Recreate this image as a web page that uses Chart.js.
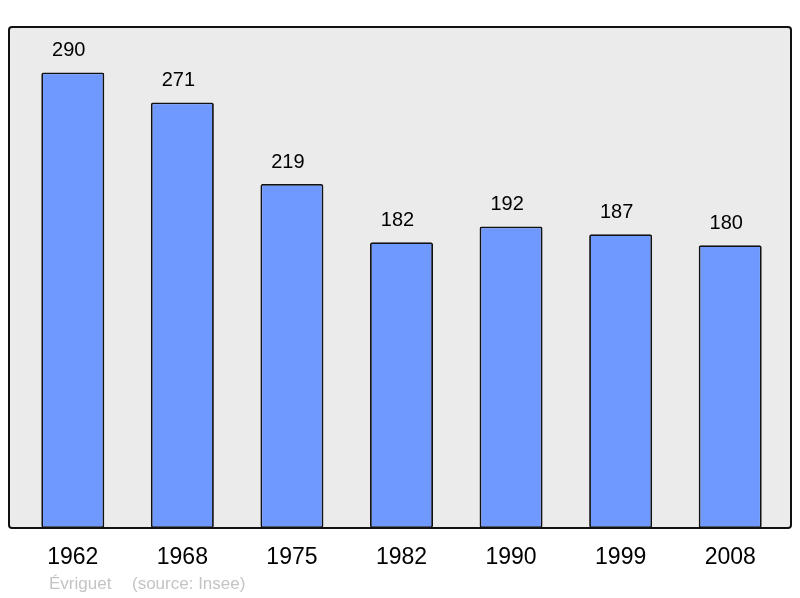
<!DOCTYPE html>
<html>
<head>
<meta charset="utf-8">
<script src="https://cdn.jsdelivr.net/npm/chart.js@4"></script>
<style>
  html, body { margin: 0; padding: 0; background: #fff; }
  #wrap { width: 800px; height: 598px; }
</style>
</head>
<body>
<div id="wrap"><canvas id="chart"></canvas></div>
<script>
// Population data
const years = ['1962', '1968', '1975', '1982', '1990', '1999', '2008'];
const population = [290, 271, 219, 182, 192, 187, 180];
const author = 'Évriguet';
const source = '(source: Insee)';

// Gray frame behind the bars
const framePlugin = {
    id: 'frame',
    beforeDraw(chart) {
        const { ctx, chartArea } = chart;
        const x0 = chartArea.left - 9, x1 = chartArea.right + 6;
        const y0 = chartArea.top, y1 = chartArea.bottom;
        ctx.save();
        ctx.beginPath();
        ctx.roundRect(x0, y0, x1 - x0, y1 - y0, 3);
        ctx.fillStyle = '#ebebeb';
        ctx.fill();
        ctx.restore();
    },
    afterDatasetsDraw(chart) {
        const { ctx, chartArea } = chart;
        const x0 = chartArea.left - 9, x1 = chartArea.right + 6;
        const y0 = chartArea.top, y1 = chartArea.bottom;
        ctx.save();
        ctx.beginPath();
        ctx.roundRect(x0, y0, x1 - x0, y1 - y0, 3);
        ctx.lineWidth = 2;
        ctx.strokeStyle = '#111';
        ctx.stroke();
        ctx.restore();
    }
};

// Values above bars + footer
const labelPlugin = {
    id: 'labels',
    afterDraw(chart) {
        const { ctx } = chart;
        const meta = chart.getDatasetMeta(0);
        ctx.save();
        ctx.font = '20px "Liberation Sans", Arial, sans-serif';
        ctx.fillStyle = '#000';
        ctx.textAlign = 'center';
        ctx.textBaseline = 'middle';
        meta.data.forEach((bar, i) => {
            ctx.fillText(population[i], bar.x - 4, bar.y - 22);
        });
        ctx.font = '17px "Liberation Sans", Arial, sans-serif';
        ctx.fillStyle = '#c4c4c4';
        ctx.textAlign = 'left';
        ctx.fillText(author, 49, 584);
        ctx.fillText(source, 132, 584);
        ctx.restore();
    }
};

new Chart(document.getElementById('chart'), {
    type: 'bar',
    data: {
        labels: years,
        datasets: [{
            data: population,
            backgroundColor: '#7099ff',
            borderColor: '#111',
            borderWidth: 1.8,
            borderRadius: 2,
            borderSkipped: false,
            barPercentage: 0.575,
            categoryPercentage: 1
        }]
    },
    options: {
        responsive: true,
        maintainAspectRatio: false,
        animation: false,
        layout: { padding: { left: 18, right: 15, top: 27, bottom: 0 } },
        plugins: {
            legend: { display: false },
            tooltip: { enabled: false }
        },
        scales: {
            x: {
                grid: { display: false, drawTicks: false },
                border: { display: false },
                ticks: {
                    color: '#000',
                    padding: 16,
                    font: { family: '"Liberation Sans", Arial, sans-serif', size: 23 }
                },
                afterFit(scale) { scale.height = 70; }
            },
            y: {
                display: false,
                min: 0,
                max: 319
            }
        }
    },
    plugins: [framePlugin, labelPlugin]
});
</script>
</body>
</html>
